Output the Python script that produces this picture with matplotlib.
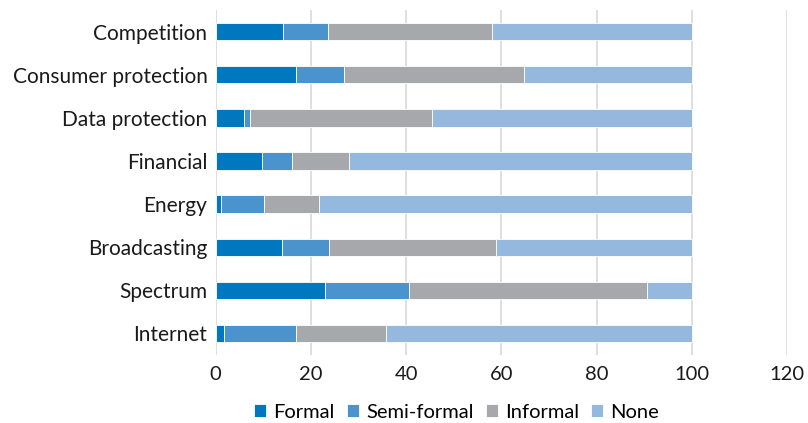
import numpy as np
import matplotlib.pyplot as plt

categories = ['Competition', 'Consumer protection', 'Data protection', 'Financial',
              'Energy', 'Broadcasting', 'Spectrum', 'Internet']
formal = [14.2, 16.8, 5.9, 9.7, 1.1, 14.0, 22.9, 1.8]
semi_formal = [9.4, 10.1, 1.2, 6.3, 9.0, 9.8, 17.7, 15.1]
informal = [34.5, 37.9, 38.4, 12.0, 11.6, 35.1, 49.9, 18.8]
none = [41.9, 35.2, 54.5, 72.0, 78.3, 41.1, 9.5, 64.3]

series_names = ['Formal', 'Semi-formal', 'Informal', 'None']
colors = ['#0077be', '#4a93cc', '#a7a8ab', '#95b8df']

plt.rcParams['font.family'] = ['Lato', 'DejaVu Sans']

fig = plt.figure(figsize=(8.08, 4.23), dpi=100)
ax = fig.add_axes([0.267, 0.161, 0.707, 0.815])

y = np.arange(len(categories))
left = np.zeros(len(categories))
for name, vals, c in zip(series_names, [formal, semi_formal, informal, none], colors):
    ax.barh(y, vals, left=left, height=0.4, color=c, label=name,
            edgecolor='white', linewidth=0.6)
    left = left + np.array(vals)

ax.set_xlim(0, 120)
ax.set_ylim(len(categories) - 0.5, -0.5)
ax.set_xticks(range(0, 121, 20))
ax.set_yticks(y)
ax.set_yticklabels(categories, fontsize=15, color='#1a1a1a')
ax.tick_params(axis='x', labelsize=14.5, colors='#1a1a1a', length=0, pad=8)
ax.tick_params(axis='y', length=0, pad=6)
ax.grid(axis='x', color='#d9d9d9', linewidth=1.2)
ax.set_axisbelow(True)
for s in ax.spines.values():
    s.set_visible(False)

fig.legend(loc='center', bbox_to_anchor=(0.565, 0.026), ncol=4, frameon=False,
           fontsize=14.5, handlelength=0.6, handleheight=0.6, handletextpad=0.35,
           columnspacing=0.6)

fig.savefig('out.png', dpi=100)
